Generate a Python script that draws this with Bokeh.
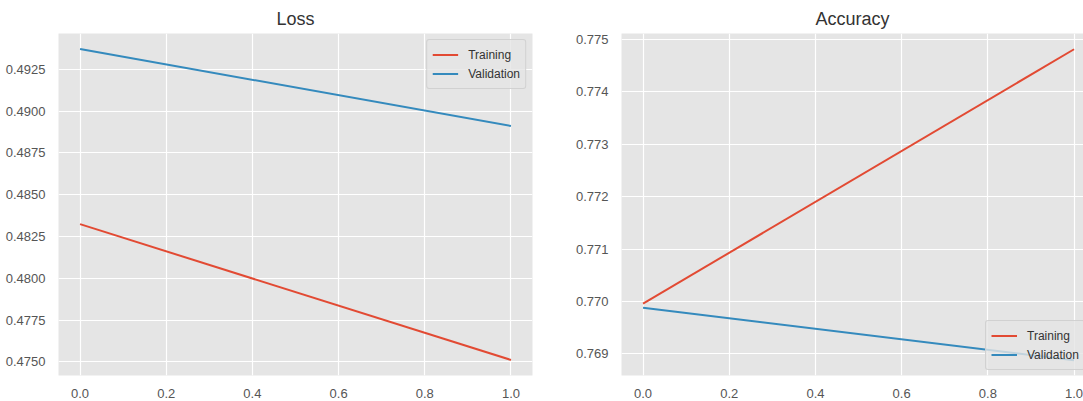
from bokeh.plotting import figure
from bokeh.layouts import row
from bokeh.models import Range1d, Legend, LegendItem, FixedTicker, CustomJSTickFormatter
from bokeh.embed import file_html
from bokeh.resources import INLINE

epochs = [0, 1]
train_loss = [0.48324, 0.47512]
val_loss = [0.49371, 0.48911]
train_acc = [0.76996, 0.77481]
val_acc = [0.76988, 0.76888]
x_ticks = [0.0, 0.2, 0.4, 0.6, 0.8, 1.0]
loss_ticks = [0.4750, 0.4775, 0.4800, 0.4825, 0.4850, 0.4875, 0.4900, 0.4925]
acc_ticks = [0.769, 0.770, 0.771, 0.772, 0.773, 0.774, 0.775]

BG = "#E5E5E5"
RED = "#E24A33"
BLUE = "#348ABD"
FONT = "Liberation Sans"


def style(p, yticks, fmt):
    p.background_fill_color = BG
    p.border_fill_color = "white"
    p.outline_line_color = None
    p.xgrid.grid_line_color = "white"
    p.ygrid.grid_line_color = "white"
    p.xgrid.grid_line_width = 1.2
    p.ygrid.grid_line_width = 1.2
    for ax in (p.xaxis[0], p.yaxis[0]):
        ax.axis_line_color = None
        ax.major_tick_line_color = None
        ax.minor_tick_line_color = None
        ax.major_label_text_font = FONT
        ax.major_label_text_font_size = "13px"
        ax.major_label_text_color = "#555555"
        ax.major_label_standoff = 7
    p.xaxis[0].ticker = FixedTicker(ticks=x_ticks)
    p.yaxis[0].ticker = FixedTicker(ticks=yticks)
    p.xaxis[0].formatter = CustomJSTickFormatter(code="return tick.toFixed(1);")
    p.yaxis[0].formatter = CustomJSTickFormatter(code="return tick.toFixed(%d);" % fmt)
    p.title.align = "center"
    p.title.text_font = FONT
    p.title.text_font_size = "18px"
    p.title.text_font_style = "normal"
    p.title.text_color = "#333333"


def make_legend(p, r1, r2, loc):
    leg = Legend(items=[LegendItem(label="Training", renderers=[r1]),
                        LegendItem(label="Validation", renderers=[r2])],
                 location=loc)
    leg.label_text_font = FONT
    leg.label_text_font_size = "12px"
    leg.label_text_color = "#333333"
    leg.background_fill_color = BG
    leg.background_fill_alpha = 0.8
    leg.border_line_color = "#CCCCCC"
    leg.border_line_alpha = 0.8
    leg.border_radius = 3
    leg.padding = 5
    leg.spacing = 0
    leg.margin = 6
    leg.glyph_width = 26
    leg.glyph_height = 19
    leg.label_height = 19
    leg.label_standoff = 10
    p.add_layout(leg)


p1 = figure(title="Loss", frame_width=474, frame_height=342,
            min_border_left=58, min_border_right=28, min_border_top=33,
            min_border_bottom=26, output_backend="svg", toolbar_location=None,
            x_range=Range1d(-0.05, 1.05), y_range=Range1d(0.47419, 0.49464))
style(p1, loss_ticks, 4)
r1 = p1.line(epochs, train_loss, line_color=RED, line_width=2)
r2 = p1.line(epochs, val_loss, line_color=BLUE, line_width=2)
make_legend(p1, r1, r2, "top_right")

p2 = figure(title="Accuracy", frame_width=462, frame_height=342,
            min_border_left=61, min_border_right=0, min_border_top=33,
            min_border_bottom=26, output_backend="svg", toolbar_location=None,
            x_range=Range1d(-0.05, -0.05 + 462 / 431), y_range=Range1d(0.76859, 0.77511))
style(p2, acc_ticks, 3)
r3 = p2.line(epochs, train_acc, line_color=RED, line_width=2)
r4 = p2.line(epochs, val_acc, line_color=BLUE, line_width=2)
make_legend(p2, r3, r4, (364, 5))

layout = row(p1, p2)
open("out.html", "w").write(file_html(layout, INLINE))
